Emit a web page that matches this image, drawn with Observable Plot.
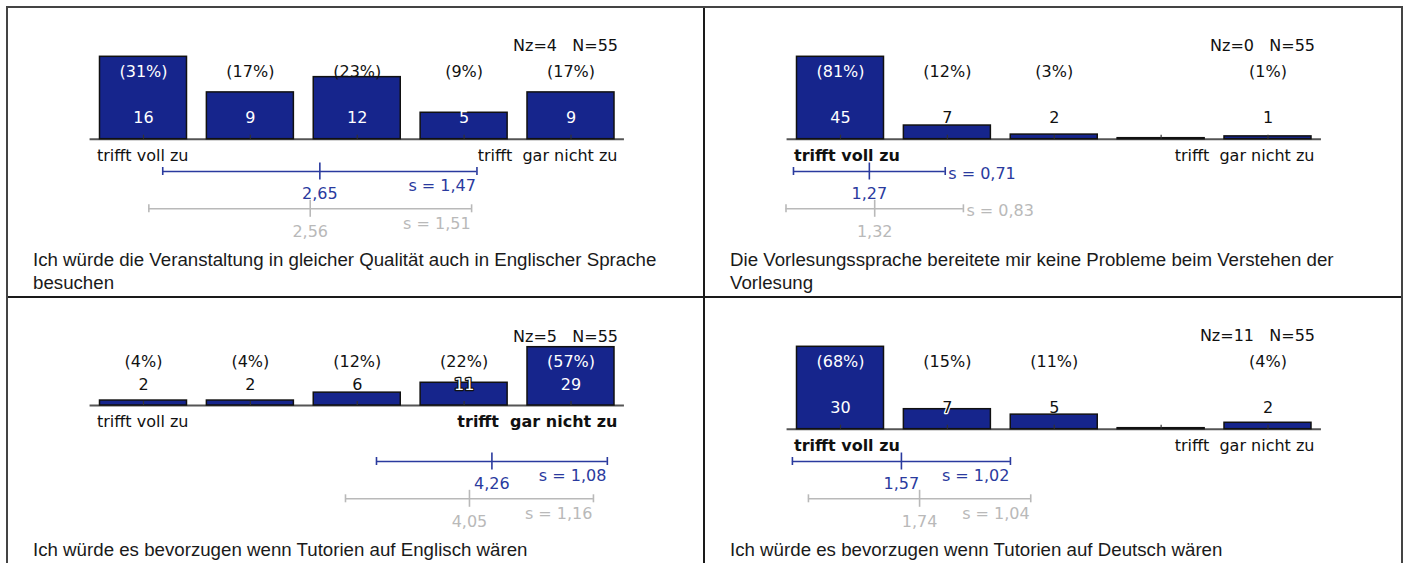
<!DOCTYPE html>
<html>
<head>
<meta charset="utf-8">
<script src="https://cdn.jsdelivr.net/npm/d3@7"></script>
<script src="https://cdn.jsdelivr.net/npm/@observablehq/plot@0.6"></script>
<style>
  body { margin: 0; background: #fff; width: 1406px; height: 563px; overflow: hidden; position: relative; }
  #frame { position: absolute; left: 6px; top: 6px; width: 1393px; height: 620px; border: 2px solid #444; }
  .cell { position: absolute; width: 696px; height: 288px; }
  .vdiv, .hdiv { position: absolute; background: #1a1a1a; }
  .caption { position: absolute; left: 25px; top: 240px; width: 650px; font-family: "Liberation Sans", Arial, sans-serif; font-size: 18.7px; line-height: 23px; color: #1a1a1a; }
  svg text { white-space: pre; }
</style>
</head>
<body>
<div id="frame"></div>
<div class="vdiv" style="left:703px;top:8px;width:2px;height:620px"></div>
<div class="hdiv" style="left:8px;top:296px;width:1393px;height:2px"></div>
<div id="cells"></div>
<script>
// ---------- data ----------
const categories = [1, 2, 3, 4, 5];
const counts = [
  [16, 9, 12, 5, 9],
  [45, 7, 2, 0, 1],
  [2, 2, 6, 11, 29],
  [30, 7, 5, 0, 2]
];
const percents = [
  [31, 17, 23, 9, 17],
  [81, 12, 3, 0, 1],
  [4, 4, 12, 22, 57],
  [68, 15, 11, 0, 4]
];
const nz = [4, 0, 5, 11];
const nTotal = [55, 55, 55, 55];
const means = [2.65, 1.27, 4.26, 1.57];
const sds = [1.47, 0.71, 1.08, 1.02];
const refMeans = [2.56, 1.32, 4.05, 1.74];
const refSds = [1.51, 0.83, 1.16, 1.04];
const lowLabel = "trifft voll zu";
const highLabel = "trifft  gar nicht zu";
const boldSide = ["", "low", "high", "low"];
const questions = [
  "Ich würde die Veranstaltung in gleicher Qualität auch in Englischer Sprache besuchen",
  "Die Vorlesungssprache bereitete mir keine Probleme beim Verstehen der Vorlesung",
  "Ich würde es bevorzugen wenn Tutorien auf Englisch wären",
  "Ich würde es bevorzugen wenn Tutorien auf Deutsch wären"
];

// ---------- layout / style ----------
const cellPos = [{left: 8, top: 8}, {left: 705, top: 8}, {left: 8, top: 298}, {left: 705, top: 298}];
const layout = [
  {base: 130.7, top: 49.3},
  {base: 130.7, top: 49.3},
  {base: 107.0, top: 49.7},
  {base: 130.7, top: 49.3}
];
const BAR = "#16258c";
const BLUE = "#2a3a9e";
const GRAY = "#b9b9b9";
const INK = "#111";
const fmt = v => v.toFixed(2).replace(".", ",");

function makePanel(i) {
  const L = layout[i];
  const rows = categories.map((k, j) => ({k, n: counts[i][j], p: percents[i][j]}));
  const max = d3.max(rows, d => d.n);
  const ys = Plot.scale({y: {domain: [0, max], range: [L.base, L.top]}});
  const countDy = -21;
  const pctDy = 13.7;
  rows.forEach(d => {
    const barTop = ys.apply(d.n);
    const cCenter = L.base + countDy;
    const diff = barTop - cCenter;
    d.cInside = diff < 0;
    d.cHalo = Math.abs(diff) < 3;
    d.pInside = barTop < ys.apply(max) + pctDy - 5;
  });
  const shown = rows.filter(d => d.n > 0);
  const marks = [];
  const txt = {fontSize: 16, fontFamily: "DejaVu Sans"};

  marks.push(Plot.ruleY([0], {x1: categories[0] - 0.5, x2: categories[categories.length - 1] + 0.5, stroke: "#555", strokeWidth: 2}));
  marks.push(Plot.rect(rows, {x1: d => d.k - 0.407, x2: d => d.k + 0.407, y1: 0, y2: "n", fill: BAR, stroke: "#111", strokeWidth: 1.5, insetTop: -1}));
  marks.push(Plot.ruleX(categories, {x: d => d, y1: 0, y2: 0, insetTop: -4, stroke: "#333", strokeWidth: 1.2}));

  marks.push(Plot.text([`Nz=${nz[i]}   N=${nTotal[i]}`], {x: () => categories[4], y: () => max, text: d => d, textAnchor: "end", dx: 47, dy: -11.6, fill: INK, ...txt}));

  marks.push(Plot.text(shown.filter(d => d.pInside), {x: "k", y: () => max, dy: pctDy, text: d => `(${d.p}%)`, fill: "#fff", ...txt}));
  marks.push(Plot.text(shown.filter(d => !d.pInside), {x: "k", y: () => max, dy: pctDy, text: d => `(${d.p}%)`, fill: INK, ...txt}));

  marks.push(Plot.text(shown.filter(d => d.cInside && !d.cHalo), {x: "k", y: () => 0, dy: countDy, text: "n", fill: "#fff", ...txt}));
  marks.push(Plot.text(shown.filter(d => !d.cInside && !d.cHalo), {x: "k", y: () => 0, dy: countDy, text: "n", fill: INK, ...txt}));
  marks.push(Plot.text(shown.filter(d => d.cInside && d.cHalo), {x: "k", y: () => 0, dy: countDy, text: "n", fill: "#fff", stroke: "#111", strokeWidth: 2.5, paintOrder: "stroke", ...txt}));
  marks.push(Plot.text(shown.filter(d => !d.cInside && d.cHalo), {x: "k", y: () => 0, dy: countDy, text: "n", fill: INK, stroke: "#fff", strokeWidth: 2.5, paintOrder: "stroke", ...txt}));

  marks.push(Plot.text([lowLabel], {x: () => categories[0], y: () => 0, text: d => d, textAnchor: "start", dx: -46.5, dy: 16.3, fill: INK, fontWeight: boldSide[i] === "low" ? "bold" : "normal", ...txt}));
  marks.push(Plot.text([highLabel], {x: () => categories[4], y: () => 0, text: d => d, textAnchor: "end", dx: 46.5, dy: 16.3, fill: INK, fontWeight: boldSide[i] === "high" ? "bold" : "normal", ...txt}));

  const stats = [
    {m: means[i], s: sds[i], color: BLUE, lineY: 163.0, meanDy: 22.3, sDy: 14},
    {m: refMeans[i], s: refSds[i], color: GRAY, lineY: 200.3, meanDy: 22.7, sDy: 14.7}
  ];
  for (const st of stats) {
    const off = st.lineY - L.base;
    marks.push(Plot.ruleY([0], {x1: st.m - st.s, x2: st.m + st.s, dy: off, stroke: st.color, strokeWidth: 1.6}));
    marks.push(Plot.ruleX([st.m - st.s, st.m + st.s], {x: d => d, y1: 0, y2: 0, insetTop: -4, insetBottom: -4, dy: off, stroke: st.color, strokeWidth: 1.6}));
    marks.push(Plot.ruleX([st.m], {x: d => d, y1: 0, y2: 0, insetTop: -8.5, insetBottom: -8.5, dy: off, stroke: st.color, strokeWidth: 1.6}));
    marks.push(Plot.text([st.m], {x: d => d, y: () => 0, text: d => fmt(d), dy: off + st.meanDy, fill: st.color, ...txt}));
    const sText = `s = ${fmt(st.s)}`;
    if (st.s < 0.95) {
      marks.push(Plot.text([st.m + st.s], {x: d => d, y: () => 0, text: () => sText, textAnchor: "start", dx: 3, dy: off + 2.5, fill: st.color, ...txt}));
    } else {
      marks.push(Plot.text([st.m + st.s], {x: d => d, y: () => 0, text: () => sText, textAnchor: "end", dx: -1, dy: off + st.sDy, fill: st.color, ...txt}));
    }
  }

  return Plot.plot({
    width: 696,
    height: 240,
    margin: 0,
    style: {fontFamily: "DejaVu Sans", fontSize: "16px", overflow: "visible", background: "transparent"},
    x: {type: "linear", domain: [1, 5], range: [135, 562.5], axis: null},
    y: {type: "linear", domain: [0, max], range: [L.base, L.top], axis: null},
    marks
  });
}

const host = document.getElementById("cells");
questions.forEach((q, i) => {
  const cell = document.createElement("div");
  cell.className = "cell";
  cell.style.left = cellPos[i].left + "px";
  cell.style.top = cellPos[i].top + "px";
  cell.appendChild(makePanel(i));
  const cap = document.createElement("div");
  cap.className = "caption";
  cap.textContent = q;
  cell.appendChild(cap);
  host.appendChild(cell);
});
</script>
</body>
</html>
